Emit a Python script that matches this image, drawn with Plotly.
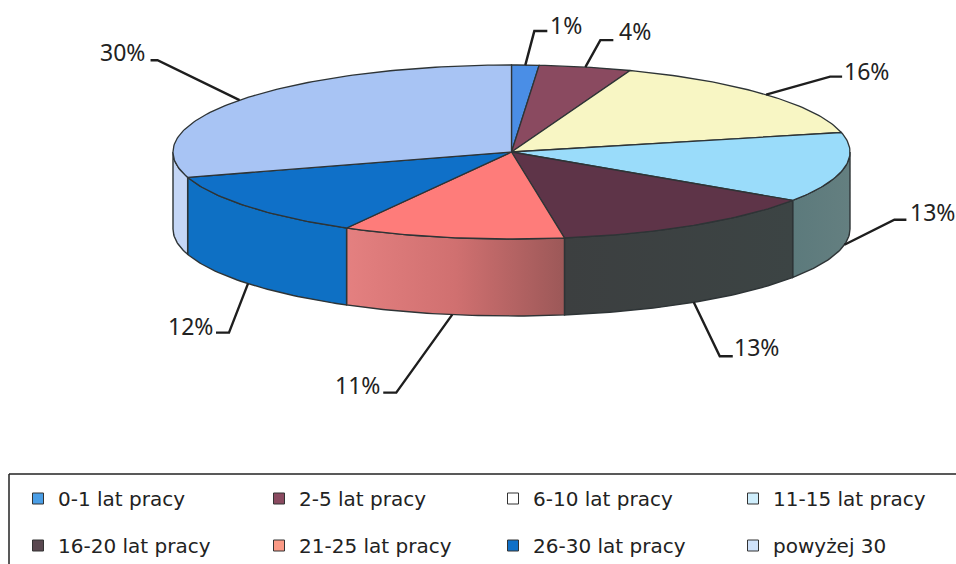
import math
import plotly.graph_objects as go

# ---- data ----
categories = ["0-1 lat pracy", "2-5 lat pracy", "6-10 lat pracy", "11-15 lat pracy",
              "16-20 lat pracy", "21-25 lat pracy", "26-30 lat pracy", "powyżej 30"]
shares = [1.3, 4.4, 15.7, 13.0, 13.1, 10.6, 12.2, 29.7]

# ---- style ----
top_colors = ["#4a8ee6", "#8a4a60", "#f8f6c4", "#9adcfa", "#5e3448", "#fe7c7a", "#0f70c8", "#a8c4f4"]
legend_colors = ["#4a9ee6", "#8a4a60", "#ffffff", "#cfeefc", "#5a4850", "#fb9a86", "#0f70c8", "#cfe2fa"]
wall_scales = [
    None, None, None,
    [[0, "#5c7a7c"], [1, "#647f80"]],
    [[0, "#3c3f40"], [1, "#3c4444"]],
    [[0, "#e48080"], [0.5, "#d07070"], [1, "#9c5858"]],
    [[0, "#0e70c4"], [1, "#0e70c4"]],
    [[0, "#c4d6f6"], [1, "#c4d6f6"]],
]
# offsets of leader elbow from the slice's rim point, stub length, label offset from stub end
leaders = [(9, -34, 13, 19, -6), (15, -27, 13, 22, -9), (64, -18, 12, 24, -6), (50, -25, 12, 26, -8),
           (26, 54, 13, 24, -9), (-56, 78, -13, -26, -8), (-19, 49, -13, -25, -7), (-82, -40, -7, -28, -8)]
legend_columns_px = [18, 259, 493, 733]

CX, CY, RX, RY, DEPTH = 511.5, 152, 338.5, 87, 77
OUTLINE = "#2e3436"
TEXT = "#222222"


def rim(deg, drop=0):
    a = math.radians(deg)
    return CX + RX * math.sin(a), CY - RY * math.cos(a) + drop


def arc(a0, a1, drop=0):
    n = max(2, int(abs(a1 - a0)) + 2)
    return [rim(a0 + (a1 - a0) * i / (n - 1), drop) for i in range(n)]


edges = [0]
for s in shares:
    edges.append(edges[-1] + s * 3.6)

fig = go.Figure()

# side walls (only the part of the rim facing the viewer)
for i, scale in enumerate(wall_scales):
    a0, a1 = max(edges[i], 90), min(edges[i + 1], 270)
    if scale is None or a1 <= a0:
        continue
    pts = arc(a0, a1) + arc(a1, a0, DEPTH)
    pts.append(pts[0])
    fig.add_trace(go.Scatter(x=[p[0] for p in pts], y=[p[1] for p in pts], mode="lines", fill="toself",
                             fillgradient=dict(type="horizontal", colorscale=scale),
                             line=dict(color=OUTLINE, width=1.4), showlegend=False, hoverinfo="skip"))

# top faces
for i, name in enumerate(categories):
    pts = [(CX, CY)] + arc(edges[i], edges[i + 1]) + [(CX, CY)]
    fig.add_trace(go.Scatter(x=[p[0] for p in pts], y=[p[1] for p in pts], mode="lines", fill="toself",
                             fillcolor=top_colors[i], line=dict(color=OUTLINE, width=1.3),
                             name=name, showlegend=False, hoverinfo="name"))

# leader lines and labels
annotations = []
for i, (dx, dy, stub, lx, ly) in enumerate(leaders):
    mid = (edges[i] + edges[i + 1]) / 2
    front = 90 < mid < 270
    bx, by = rim(mid, DEPTH if front else 0)
    ex, ey = bx + dx, by + dy
    fig.add_trace(go.Scatter(x=[bx, ex, ex + stub], y=[by, ey, ey], mode="lines",
                             line=dict(color="#1e1e1e", width=2.4), showlegend=False, hoverinfo="skip"))
    annotations.append(dict(x=ex + stub + lx, y=ey + ly, text=f"{round(shares[i])}%", showarrow=False,
                            xanchor="center", yanchor="middle",
                            font=dict(family="Noto Sans", size=23, color=TEXT)))

# legend entries: one native vertical legend per column
legend_ids = ["legend", "legend2", "legend3", "legend4"]
for i, name in enumerate(categories):
    fig.add_trace(go.Scatter(x=[None], y=[None], mode="markers", name=name,
                             legend=legend_ids[i % 4], legendgroup=name,
                             marker=dict(symbol="square", size=11, color=legend_colors[i],
                                         line=dict(color="#333333", width=1))))

legend_layouts = {
    lid: dict(orientation="v", xanchor="left", yanchor="top", x=px / 956, y=1 - 479 / 564,
              bgcolor="rgba(0,0,0,0)", borderwidth=0, tracegroupgap=18,
              font=dict(family="DejaVu Sans", size=20, color=TEXT))
    for lid, px in zip(legend_ids, legend_columns_px)
}

fig.update_layout(
    width=956, height=564, margin=dict(l=0, r=0, t=0, b=0, autoexpand=False),
    paper_bgcolor="white", plot_bgcolor="white",
    xaxis=dict(range=[0, 956], visible=False, fixedrange=True),
    yaxis=dict(range=[564, 0], visible=False, fixedrange=True),
    annotations=annotations,
    shapes=[
        dict(type="line", xref="x", yref="y", x0=9, x1=956, y0=474, y1=474, line=dict(color="#222", width=1.5)),
        dict(type="line", xref="x", yref="y", x0=9, x1=9, y0=474, y1=564, line=dict(color="#222", width=1.5)),
    ],
    **legend_layouts,
)
fig.write_html("out.html", config={"displayModeBar": False},
               post_script="document.documentElement.style.margin='0';document.body.style.margin='0';document.body.style.overflow='hidden';")
